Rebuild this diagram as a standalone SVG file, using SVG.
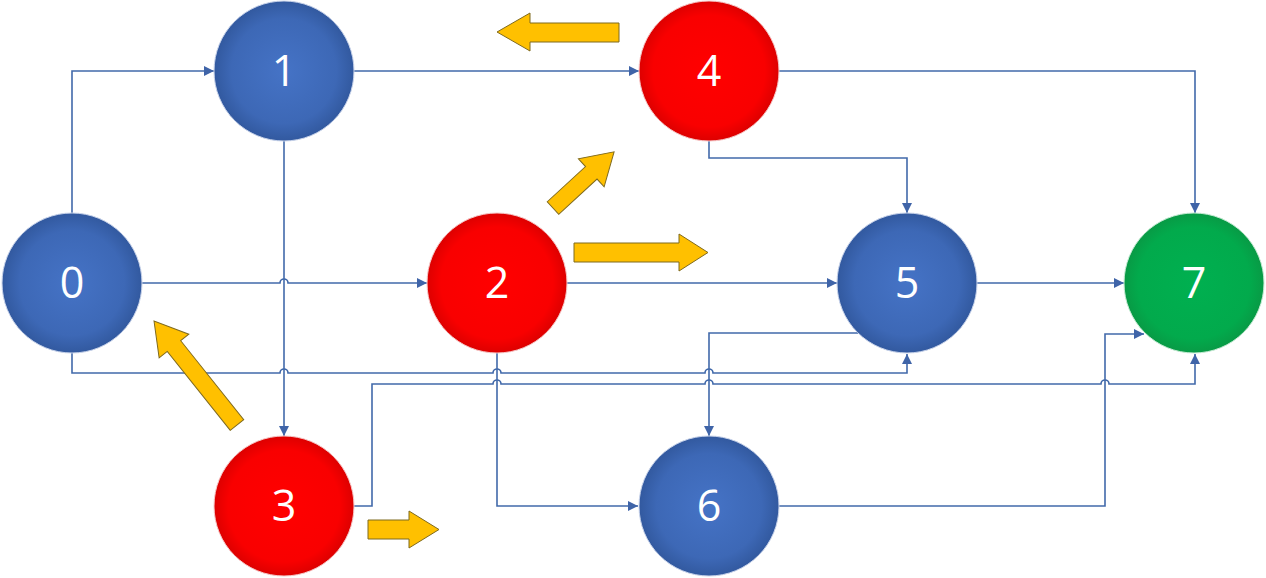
<svg xmlns="http://www.w3.org/2000/svg" width="1266" height="578" viewBox="0 0 1266 578">
  <defs>
    <radialGradient id="gBlue" cx="50%" cy="50%" r="50%">
      <stop offset="0" stop-color="#4573C6"/>
      <stop offset="0.75" stop-color="#3D68B6"/>
      <stop offset="1" stop-color="#32599F"/>
    </radialGradient>
    <radialGradient id="gRed" cx="50%" cy="50%" r="50%">
      <stop offset="0" stop-color="#FF0000"/>
      <stop offset="0.8" stop-color="#F90000"/>
      <stop offset="1" stop-color="#DD0000"/>
    </radialGradient>
    <radialGradient id="gGreen" cx="50%" cy="50%" r="50%">
      <stop offset="0" stop-color="#00B050"/>
      <stop offset="0.8" stop-color="#02AA4C"/>
      <stop offset="1" stop-color="#089A45"/>
    </radialGradient>
    <marker id="arr" viewBox="0 0 10 10" refX="10" refY="5" markerWidth="11" markerHeight="10" markerUnits="userSpaceOnUse" orient="auto">
      <path d="M0,0 L10,5 L0,10 Z" fill="#3F64A8"/>
    </marker>
  </defs>
  <style>
    .edge { fill: none; stroke: #4169AA; stroke-width: 1.6; }
    .arrowed { marker-end: url(#arr); }
    .node text { font-family: "Open Sans", "Liberation Sans", sans-serif; font-size: 43px; fill: #FFFFFF; text-anchor: middle; }
    .blue { fill: url(#gBlue); stroke: #C8D3EA; stroke-width: 1; }
    .red { fill: url(#gRed); stroke: #F6C8C8; stroke-width: 1; }
    .green { fill: url(#gGreen); stroke: #C6EBD4; stroke-width: 1; }
    .block { fill: #FFC000; stroke: #7F6A1E; stroke-width: 1; stroke-linejoin: miter; }
  </style>
  <rect width="1266" height="578" fill="#FFFFFF"/>

  <g id="connectors">
    <path class="edge arrowed" d="M72,213 V71 H214"/>
    <path class="edge arrowed" d="M354,71 H639"/>
    <path class="edge arrowed" d="M779,71 H1195 V213"/>
    <path class="edge arrowed" d="M709,141 V158 H907 V213"/>
    <path class="edge arrowed" d="M284,141 V436"/>
    <path class="edge arrowed" d="M142,283 H280 A4,4 0 0 1 288,283 H427"/>
    <path class="edge arrowed" d="M567,283 H837"/>
    <path class="edge arrowed" d="M977,283 H1124"/>
    <path class="edge arrowed" d="M72,353 V373 H280 A4,4 0 0 1 288,373 H493 A4,4 0 0 1 501,373 H705 A4,4 0 0 1 713,373 H907 V354"/>
    <path class="edge arrowed" d="M354,506 H372 V384 H493 A4,4 0 0 1 501,384 H705 A4,4 0 0 1 713,384 H1101 A4,4 0 0 1 1109,384 H1195 V354"/>
    <path class="edge arrowed" d="M858,333 H709 V436"/>
    <path class="edge arrowed" d="M497,353 V506 H638"/>
    <path class="edge arrowed" d="M779,506 H1105 V334 H1144"/>
  </g>

  <g id="direction-arrows">
    <path class="block" d="M619,23 H530 V13 L497,32 L530,51 V42 H619 Z"/>
    <path class="block" d="M574,243 H679 V234 L708,252.5 L679,271 V262 H574 Z"/>
    <path class="block" d="M368,520 H409 V511 L439,529.5 L409,548 V539 H368 Z"/>
    <path class="block" transform="translate(553,208) rotate(-42.6)" d="M0,-8.5 H52 V-19 L83,0 L52,19 V8.5 H0 Z"/>
    <path class="block" transform="translate(237,425) rotate(-128.6)" d="M0,-8.6 H101 V-19 L133,0 L101,19 V8.6 H0 Z"/>
  </g>

  <g id="node0" class="node"><circle class="blue" cx="72" cy="283" r="70"/><text x="72" y="298">0</text></g>
  <g id="node1" class="node"><circle class="blue" cx="284" cy="71" r="70"/><text x="284" y="86">1</text></g>
  <g id="node2" class="node"><circle class="red" cx="497" cy="283" r="70"/><text x="497" y="298">2</text></g>
  <g id="node3" class="node"><circle class="red" cx="284" cy="506" r="70"/><text x="284" y="521">3</text></g>
  <g id="node4" class="node"><circle class="red" cx="709" cy="71" r="70"/><text x="709" y="86">4</text></g>
  <g id="node5" class="node"><circle class="blue" cx="907" cy="283" r="70"/><text x="907" y="298">5</text></g>
  <g id="node6" class="node"><circle class="blue" cx="709" cy="506" r="70"/><text x="709" y="521">6</text></g>
  <g id="node7" class="node"><circle class="green" cx="1194" cy="283" r="70"/><text x="1194" y="298">7</text></g>
</svg>
